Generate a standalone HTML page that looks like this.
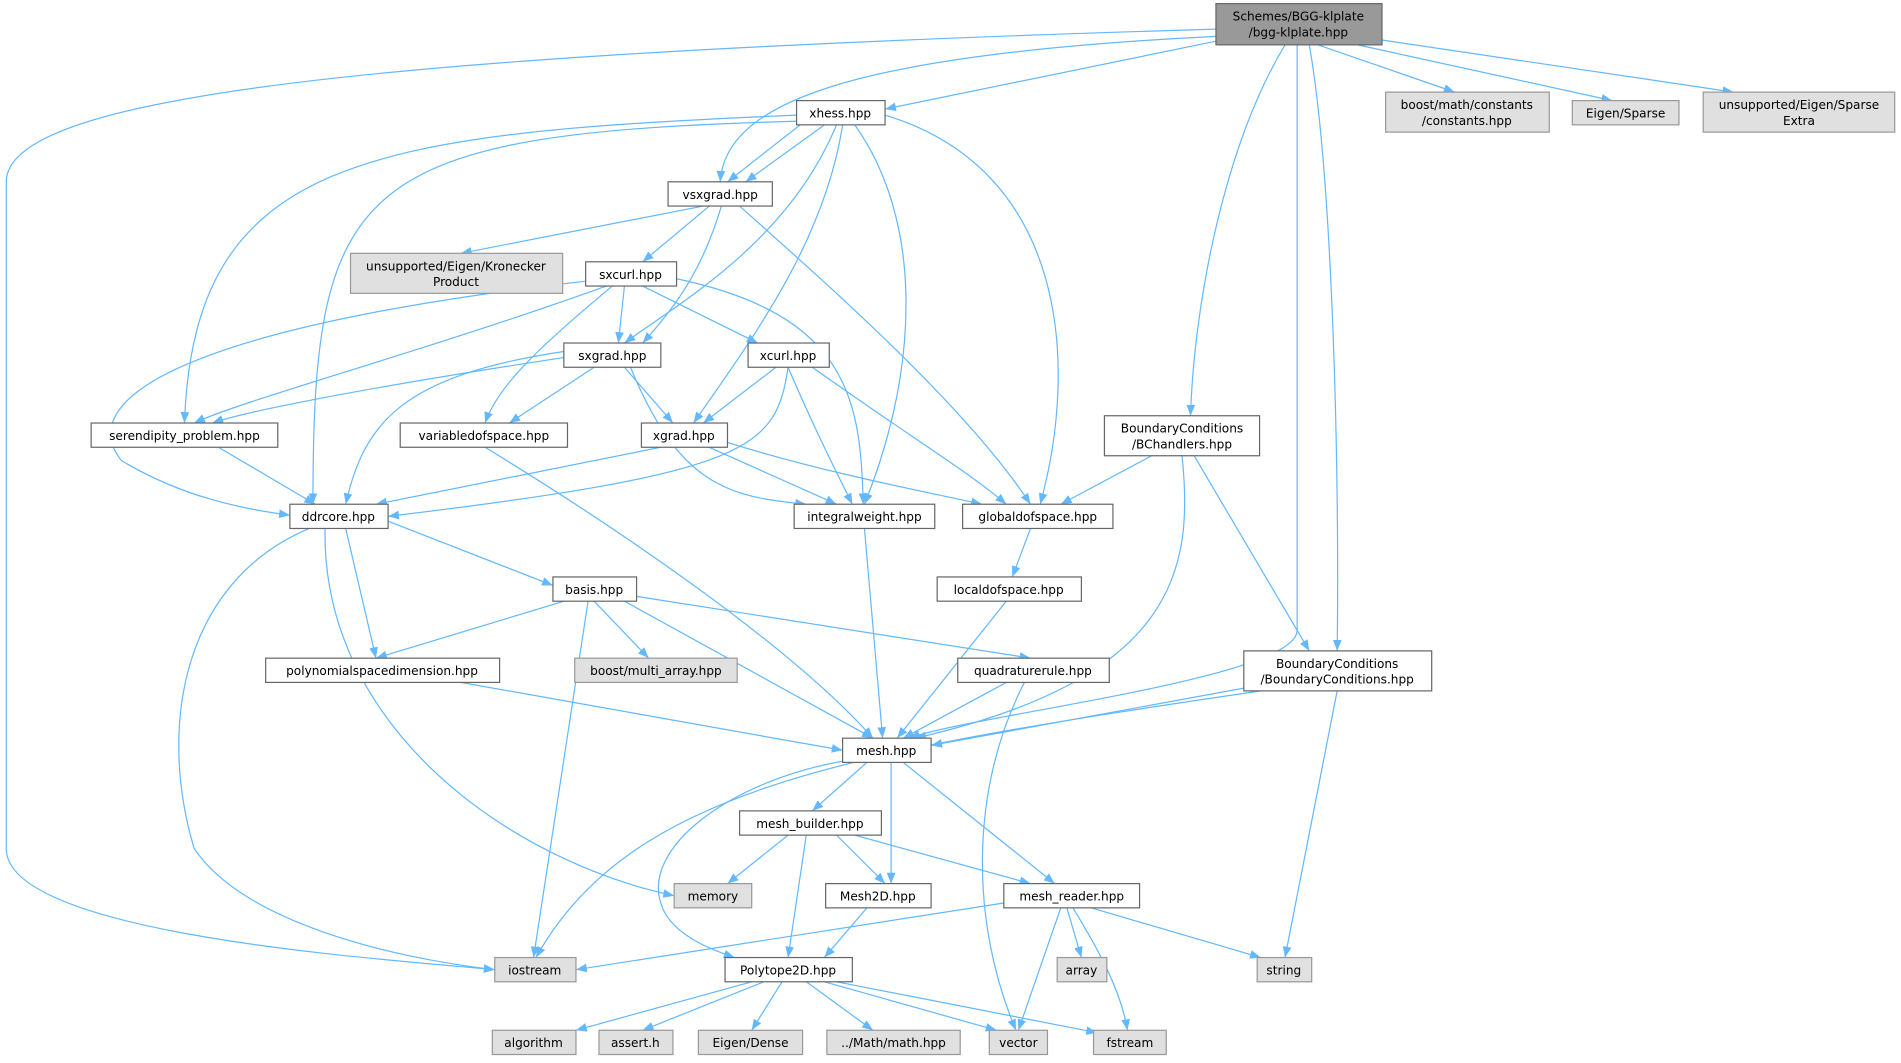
<!DOCTYPE html>
<html><head><meta charset="utf-8"><style>
html,body{margin:0;padding:0;background:#fff;}
svg{display:block}
text{font-family:"DejaVu Sans","Liberation Sans",sans-serif;font-size:10px;fill:#000;text-anchor:middle}
.e{fill:none;stroke:#63b8ff;stroke-width:1}
.w{fill:#fff;stroke:#666}
.g{fill:#e0e0e0;stroke:#999}
</style></head><body>
<svg width="1901" height="1063" viewBox="0 0 1568 877" xmlns="http://www.w3.org/2000/svg">
<defs><marker id="a" viewBox="0 0 10 10" refX="10" refY="5" markerWidth="9" markerHeight="9" markerUnits="userSpaceOnUse" orient="auto"><path d="M0,1 L10,5 L0,9 z" fill="#63b8ff"/></marker></defs>
<g class="e" marker-end="url(#a)">
<path d="M1003,24 C300,45 5,80 5,150 L5,700 C5,770 300,790 408,800"/>
<path d="M1003,30 C700,45 598,85 594,150"/>
<path d="M1003,34 L730,90"/>
<path d="M1060,37 C1010,120 985,250 982,343"/>
<path d="M1070,37 L1070,520 C1070,560 800,590 750,609"/>
<path d="M1080,37 C1100,150 1105,400 1103,537"/>
<path d="M1087,37 L1200,76"/>
<path d="M1120,37 L1330,83"/>
<path d="M1140,33 L1430,76"/>
<path d="M660,103 L600,150"/>
<path d="M680,103 L615,150"/>
<path d="M690,103 C650,200 560,250 515,283"/>
<path d="M695,103 C680,200 620,280 572,349"/>
<path d="M705,103 C760,180 760,300 713,416"/>
<path d="M730,95 C880,140 890,300 858,416"/>
<path d="M657,95 C300,110 160,130 152,349"/>
<path d="M657,100 C290,110 258,150 258,416"/>
<path d="M580,170 L380,209"/>
<path d="M585,170 L530,216"/>
<path d="M595,170 C580,220 560,250 530,283"/>
<path d="M610,170 C700,250 800,340 850,416"/>
<path d="M515,236 L510,283"/>
<path d="M530,236 L625,283"/>
<path d="M558,230 C700,260 710,330 712,416"/>
<path d="M505,236 C440,290 410,320 400,349"/>
<path d="M500,236 C350,290 200,330 160,349"/>
<path d="M483,232 C150,270 60,330 100,380 C150,410 200,420 239,425"/>
<path d="M465,295 C300,320 200,340 175,349"/>
<path d="M490,303 L420,349"/>
<path d="M515,303 L555,349"/>
<path d="M465,290 C330,310 300,350 285,416"/>
<path d="M520,303 C560,400 600,410 665,416"/>
<path d="M640,303 L580,349"/>
<path d="M650,303 C670,350 690,390 703,416"/>
<path d="M670,303 C750,360 800,390 830,416"/>
<path d="M650,303 C640,370 620,390 320,426"/>
<path d="M180,369 L260,416"/>
<path d="M400,369 C500,430 650,530 720,609"/>
<path d="M545,369 L310,416"/>
<path d="M585,369 L690,416"/>
<path d="M600,365 C680,390 760,405 810,416"/>
<path d="M950,376 L875,416"/>
<path d="M975,376 C985,470 970,560 755,609"/>
<path d="M985,376 L1080,537"/>
<path d="M320,430 L456,483"/>
<path d="M285,436 L310,543"/>
<path d="M268,436 C265,600 420,710 556,739"/>
<path d="M255,436 C150,480 130,600 160,700 C200,760 320,790 408,800"/>
<path d="M713,436 L728,609"/>
<path d="M850,436 L835,476"/>
<path d="M830,496 L740,609"/>
<path d="M465,496 L310,543"/>
<path d="M490,496 L535,543"/>
<path d="M525,492 L850,543"/>
<path d="M515,496 L720,609"/>
<path d="M485,496 L440,790"/>
<path d="M380,563 L695,619"/>
<path d="M830,563 L745,609"/>
<path d="M845,563 C800,650 800,760 838,850"/>
<path d="M1030,567 L768,615"/>
<path d="M1040,570 C700,620 520,650 442,790"/>
<path d="M1103,570 L1060,790"/>
<path d="M715,629 L670,669"/>
<path d="M735,629 L735,729"/>
<path d="M745,629 L870,729"/>
<path d="M695,628 C600,645 530,700 545,745 C552,770 585,783 606,790"/>
<path d="M650,689 L600,729"/>
<path d="M690,689 L730,729"/>
<path d="M705,689 L850,729"/>
<path d="M665,689 L650,790"/>
<path d="M715,749 L680,790"/>
<path d="M828,745 L475,800"/>
<path d="M880,749 L892,790"/>
<path d="M875,749 L840,850"/>
<path d="M885,749 C910,790 925,820 930,850"/>
<path d="M900,749 L1040,790"/>
<path d="M620,810 L475,850"/>
<path d="M630,810 L530,850"/>
<path d="M645,810 L620,850"/>
<path d="M665,810 L720,850"/>
<path d="M680,810 L822,850"/>
<path d="M690,810 L905,852"/>
</g>
<g>
<rect x="1003" y="3" width="137" height="34" fill="#999" stroke="#666"/><text x="1071" y="17">Schemes/BGG-klplate</text><text x="1071" y="30">/bgg-klplate.hpp</text>
<rect class="g" x="1143" y="76" width="135" height="33"/><text x="1210" y="90">boost/math/constants</text><text x="1210" y="103">/constants.hpp</text>
<rect class="g" x="1297" y="83" width="88" height="20"/><text x="1341" y="97">Eigen/Sparse</text>
<rect class="g" x="1405" y="76" width="158" height="33"/><text x="1484" y="90">unsupported/Eigen/Sparse</text><text x="1484" y="103">Extra</text>
<rect class="w" x="657" y="83" width="73" height="20"/><text x="693" y="97">xhess.hpp</text>
<rect class="w" x="551" y="150" width="86" height="20"/><text x="594" y="164">vsxgrad.hpp</text>
<rect class="g" x="289" y="209" width="175" height="33"/><text x="376" y="223">unsupported/Eigen/Kronecker</text><text x="376" y="236">Product</text>
<rect class="w" x="483" y="216" width="75" height="20"/><text x="520" y="230">sxcurl.hpp</text>
<rect class="w" x="465" y="283" width="80" height="20"/><text x="505" y="297">sxgrad.hpp</text>
<rect class="w" x="617" y="283" width="67" height="20"/><text x="650" y="297">xcurl.hpp</text>
<rect class="w" x="75" y="349" width="154" height="20"/><text x="152" y="363">serendipity_problem.hpp</text>
<rect class="w" x="330" y="349" width="138" height="20"/><text x="399" y="363">variabledofspace.hpp</text>
<rect class="w" x="529" y="349" width="71" height="20"/><text x="564" y="363">xgrad.hpp</text>
<rect class="w" x="911" y="343" width="128" height="33"/><text x="975" y="357">BoundaryConditions</text><text x="975" y="370">/BChandlers.hpp</text>
<rect class="w" x="239" y="416" width="81" height="20"/><text x="279" y="430">ddrcore.hpp</text>
<rect class="w" x="655" y="416" width="116" height="20"/><text x="713" y="430">integralweight.hpp</text>
<rect class="w" x="794" y="416" width="124" height="20"/><text x="856" y="430">globaldofspace.hpp</text>
<rect class="w" x="456" y="476" width="69" height="20"/><text x="490" y="490">basis.hpp</text>
<rect class="w" x="773" y="476" width="119" height="20"/><text x="832" y="490">localdofspace.hpp</text>
<rect class="w" x="219" y="543" width="193" height="20"/><text x="315" y="557">polynomialspacedimension.hpp</text>
<rect class="g" x="474" y="543" width="134" height="20"/><text x="541" y="557">boost/multi_array.hpp</text>
<rect class="w" x="790" y="543" width="125" height="20"/><text x="852" y="557">quadraturerule.hpp</text>
<rect class="w" x="1026" y="537" width="155" height="33"/><text x="1103" y="551">BoundaryConditions</text><text x="1103" y="564">/BoundaryConditions.hpp</text>
<rect class="w" x="695" y="609" width="73" height="20"/><text x="731" y="623">mesh.hpp</text>
<rect class="w" x="610" y="669" width="117" height="20"/><text x="668" y="683">mesh_builder.hpp</text>
<rect class="g" x="556" y="729" width="64" height="20"/><text x="588" y="743">memory</text>
<rect class="w" x="681" y="729" width="87" height="20"/><text x="724" y="743">Mesh2D.hpp</text>
<rect class="w" x="828" y="729" width="112" height="20"/><text x="884" y="743">mesh_reader.hpp</text>
<rect class="g" x="408" y="790" width="67" height="20"/><text x="441" y="804">iostream</text>
<rect class="w" x="598" y="790" width="105" height="20"/><text x="650" y="804">Polytope2D.hpp</text>
<rect class="g" x="872" y="790" width="41" height="20"/><text x="892" y="804">array</text>
<rect class="g" x="1037" y="790" width="45" height="20"/><text x="1059" y="804">string</text>
<rect class="g" x="406" y="850" width="69" height="20"/><text x="440" y="864">algorithm</text>
<rect class="g" x="494" y="850" width="61" height="20"/><text x="524" y="864">assert.h</text>
<rect class="g" x="576" y="850" width="86" height="20"/><text x="619" y="864">Eigen/Dense</text>
<rect class="g" x="682" y="850" width="110" height="20"/><text x="737" y="864">../Math/math.hpp</text>
<rect class="g" x="816" y="850" width="48" height="20"/><text x="840" y="864">vector</text>
<rect class="g" x="902" y="850" width="60" height="20"/><text x="932" y="864">fstream</text>
</g>
</svg>
</body></html>
